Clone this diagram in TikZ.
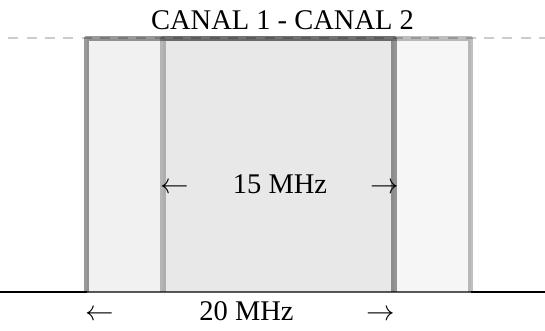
\RequirePackage{fix-cm}
\documentclass[tikz,border=0pt]{standalone}
\usepackage{fontspec}
\setmainfont{Liberation Serif}
\begin{document}
\begin{tikzpicture}[x=1pt,y=-1pt,
  lbl/.style={inner sep=0pt,anchor=base,font=\fontsize{28.5}{34}\selectfont},
  guide/.style={draw=black!20,line width=2pt,dash pattern=on 10pt off 8.3pt,dash phase=10pt},
  base/.style={draw=black,line width=2pt},
  chfill/.style={fill=black,fill opacity=#1},
  chedge/.style={draw=black,draw opacity=#1,line width=5.5pt,line join=round}]
\useasboundingbox (0,0) rectangle (545,330);
% guide lines
\coordinate (gl) at (0,38);
\coordinate (gr) at (545,38);
\draw[guide] (gl) -- (gr);
\coordinate (bl) at (0,292);
\coordinate (b1) at (86.5,292);
\coordinate (b2) at (470.5,292);
\coordinate (br) at (545,292);
\draw[base] (bl) -- (b1);
\draw[base] (b2) -- (br);
\draw[draw=black!65,line width=1.5pt] (b1) -- (b2);
% channel 1
\coordinate (c1bl) at (86.5,292);
\coordinate (c1tl) at (86.5,38.5);
\coordinate (c1tr) at (394,38.5);
\coordinate (c1br) at (394,292);
\fill[chfill=0.055] (c1bl) rectangle (c1tr);
\draw[chedge=0.4] (c1bl) -- (c1tl) -- (c1tr) -- (c1br);
% channel 2
\coordinate (c2bl) at (163,292);
\coordinate (c2tl) at (163,38.5);
\coordinate (c2tr) at (470.5,38.5);
\coordinate (c2br) at (470.5,292);
\fill[chfill=0.035] (c2bl) rectangle (c2tr);
\draw[chedge=0.25] (c2bl) -- (c2tl) -- (c2tr) -- (c2br);
% labels
\node[lbl] (title) at (282.5,29.3) {CANAL 1 - CANAL 2};
\node[lbl] (w15) at (280,193) {15 MHz};
\node[lbl] (a15l) at (174.5,193) {$\leftarrow$};
\node[lbl] (a15r) at (385,193) {$\rightarrow$};
\node[lbl] (w20) at (246.5,320) {20 MHz};
\node[lbl] (a20l) at (100,320) {$\leftarrow$};
\node[lbl] (a20r) at (381,320) {$\rightarrow$};
\end{tikzpicture}
\end{document}
